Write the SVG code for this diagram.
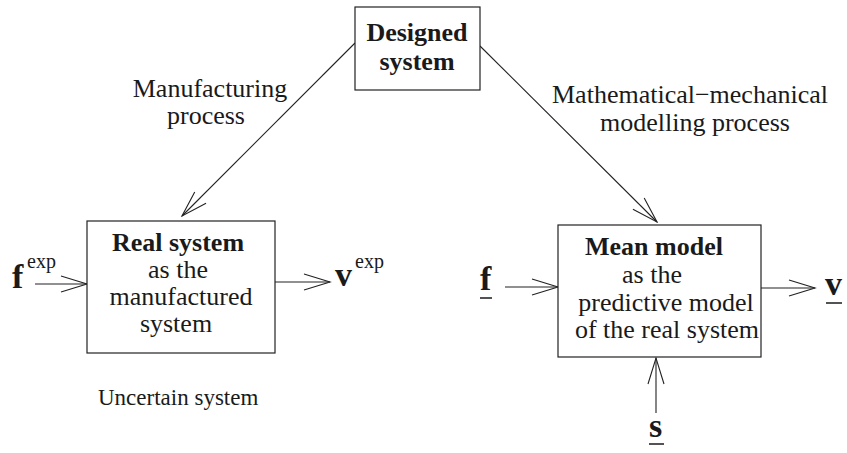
<svg xmlns="http://www.w3.org/2000/svg" width="847" height="453" viewBox="0 0 847 453">
<style>
.box{fill:#fff;stroke:#222;stroke-width:1.2}
.t{font-family:"Liberation Serif",serif;font-size:26px;fill:#1a1a1a}
.b{font-weight:bold}
.m{font-family:"Liberation Serif",serif;font-size:34px;font-weight:bold;fill:#1a1a1a}
.sup{font-family:"Liberation Serif",serif;font-size:20px;fill:#1a1a1a}
.c{stroke:#222;stroke-width:1.1;fill:none}
.u{stroke:#1a1a1a;stroke-width:1.5}
</style>
<defs>
<marker id="ah" markerUnits="userSpaceOnUse" markerWidth="30" markerHeight="20" refX="0" refY="0" viewBox="-28 -10 30 20" orient="auto">
<path d="M-26,-8 L0,0 L-26,8" fill="none" stroke="#222" stroke-width="1.1"/>
</marker>
</defs>
<rect width="847" height="453" fill="#fff"/>
<g id="connectors">
<line class="c" x1="355" y1="43" x2="182" y2="216" marker-end="url(#ah)"/>
<line class="c" x1="480" y1="46" x2="657" y2="222" marker-end="url(#ah)"/>
<line class="c" x1="35" y1="284" x2="87" y2="284" marker-end="url(#ah)"/>
<line class="c" x1="275" y1="282" x2="330" y2="282" marker-end="url(#ah)"/>
<line class="c" x1="505" y1="287" x2="558" y2="287" marker-end="url(#ah)"/>
<line class="c" x1="761" y1="288" x2="815" y2="288" marker-end="url(#ah)"/>
<line class="c" x1="656" y1="413" x2="656" y2="358" marker-end="url(#ah)"/>
</g>
<g id="designed">
<rect class="box" x="355" y="7" width="125" height="83"/>
<text class="t b" x="417" y="41" text-anchor="middle">Designed</text>
<text class="t b" x="417" y="70" text-anchor="middle">system</text>
</g>
<g id="real">
<rect class="box" x="87" y="221" width="188" height="132"/>
<text class="t b" x="178" y="251" text-anchor="middle">Real system</text>
<text class="t" x="178" y="278" text-anchor="middle">as the</text>
<text class="t" x="181" y="305" text-anchor="middle">manufactured</text>
<text class="t" x="176" y="332" text-anchor="middle">system</text>
</g>
<g id="mean">
<rect class="box" x="558" y="225" width="203" height="132"/>
<text class="t b" x="654" y="255" text-anchor="middle">Mean model</text>
<text class="t" x="652" y="283" text-anchor="middle">as the</text>
<text class="t" x="666" y="311" text-anchor="middle">predictive model</text>
<text class="t" x="667" y="338" text-anchor="middle">of the real system</text>
</g>
<g id="labels">
<text class="t" x="210" y="97" text-anchor="middle">Manufacturing</text>
<text class="t" x="206" y="124" text-anchor="middle">process</text>
<text class="t" x="690" y="103" text-anchor="middle">Mathematical−mechanical</text>
<text class="t" x="695" y="131" text-anchor="middle">modelling process</text>
<text class="t" x="98" y="405" style="font-size:23px">Uncertain system</text>
</g>
<g id="fexp">
<text class="m" x="12" y="288">f</text>
<text class="sup" x="27" y="268">exp</text>
</g>
<g id="vexp">
<text class="m" x="335" y="286">v</text>
<text class="sup" x="355" y="268">exp</text>
</g>
<g id="f">
<text class="m" x="480" y="290">f</text>
<line class="u" x1="480" y1="298" x2="492" y2="298"/>
</g>
<g id="v">
<text class="m" x="825" y="295">v</text>
<line class="u" x1="826" y1="303" x2="842" y2="303"/>
</g>
<g id="s">
<text class="m" x="649" y="437">s</text>
<line class="u" x1="649" y1="444" x2="664" y2="444"/>
</g>
</svg>
